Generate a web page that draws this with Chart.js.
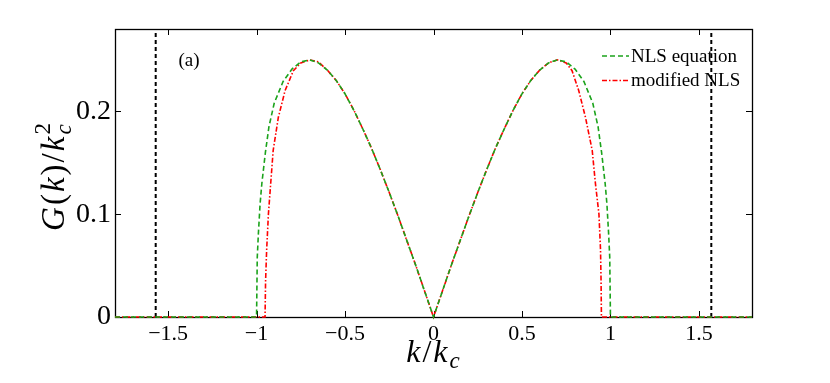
<!DOCTYPE html>
<html>
<head>
<meta charset="utf-8">
<script src="https://cdn.jsdelivr.net/npm/chart.js@4.4.1/dist/chart.umd.min.js"></script>
<style>
  html, body { margin: 0; padding: 0; background: #fff; }
</style>
</head>
<body>
<canvas id="chart" width="830" height="383"></canvas>
<script>
// --- DATA ---
const nlsK = [-1.8, -1.0, -0.996, -0.99, -0.98, -0.97, -0.95, -0.93, -0.9, -0.85, -0.8, -0.75, -0.7, -0.65, -0.6,
  -0.55, -0.5, -0.45, -0.4, -0.35, -0.3, -0.25, -0.2, -0.15, -0.1, -0.05, 0,
  0.05, 0.1, 0.15, 0.2, 0.25, 0.3, 0.35, 0.4, 0.45, 0.5, 0.55, 0.6,
  0.65, 0.7, 0.75, 0.8, 0.85, 0.9, 0.93, 0.95, 0.97, 0.98, 0.99, 0.996, 1.0, 1.8];
const nlsG = [0, 0, 0.058, 0.08, 0.11, 0.13, 0.16, 0.185, 0.208, 0.229, 0.241, 0.248, 0.250, 0.247, 0.240,
  0.230, 0.217, 0.201, 0.183, 0.164, 0.143, 0.121, 0.098, 0.074, 0.050, 0.025, 0,
  0.025, 0.050, 0.074, 0.098, 0.121, 0.143, 0.164, 0.183, 0.201, 0.217, 0.230, 0.240,
  0.247, 0.250, 0.248, 0.241, 0.229, 0.208, 0.185, 0.16, 0.13, 0.11, 0.08, 0.058, 0, 0];

const modK = [-1.8, -0.952, -0.949, -0.943, -0.933, -0.92, -0.906, -0.877, -0.839, -0.792, -0.75, -0.7, -0.65, -0.6,
  -0.55, -0.5, -0.45, -0.4, -0.35, -0.3, -0.25, -0.2, -0.15, -0.1, -0.05, 0,
  0.05, 0.1, 0.15, 0.2, 0.25, 0.3, 0.35, 0.4, 0.45, 0.5, 0.55, 0.6,
  0.65, 0.7, 0.75, 0.783, 0.821, 0.859, 0.897, 0.915, 0.935, 0.944, 0.947, 0.949, 1.8];
const modG = [0, 0, 0.035, 0.065, 0.10, 0.13, 0.162, 0.194, 0.22, 0.2395, 0.247, 0.250, 0.248, 0.240,
  0.230, 0.217, 0.201, 0.183, 0.164, 0.143, 0.121, 0.098, 0.074, 0.050, 0.025, 0,
  0.025, 0.050, 0.074, 0.098, 0.121, 0.143, 0.164, 0.183, 0.201, 0.217, 0.230, 0.240,
  0.247, 0.250, 0.247, 0.2395, 0.22, 0.194, 0.162, 0.13, 0.10, 0.065, 0.035, 0, 0];

const cutoffK = [-1.57, 1.57];

const xTicks = [-1.5, -1, -0.5, 0, 0.5, 1, 1.5];
const xTickLabels = ['\u22121.5', '\u22121', '\u22120.5', '0', '0.5', '1', '1.5'];
const yTicks = [0, 0.1, 0.2];
const yTickLabels = ['0', '0.1', '0.2'];

const seriesNames = ['NLS equation', 'modified NLS'];

// --- HELPERS ---
const toPoints = (xs, ys) => xs.map((x, i) => ({ x: x, y: ys[i] }));
const SERIF = '"Liberation Serif", "DejaVu Serif", serif';
const GREEN = '#1ba31b';
const RED = '#ff0000';

// draws a run of text parts: {t, it, size, dy}
const drawParts = (ctx, parts, x, y, gap) => {
  let cx = x;
  parts.forEach(p => {
    ctx.font = (p.it ? 'italic ' : '') + p.size + 'px ' + SERIF;
    ctx.fillText(p.t, cx, y + (p.dy || 0));
    if (!p.noAdvance) cx += ctx.measureText(p.t).width + gap;
  });
};
const partsWidth = (ctx, parts, gap) => {
  let w = 0;
  parts.forEach((p, i) => {
    ctx.font = (p.it ? 'italic ' : '') + p.size + 'px ' + SERIF;
    if (!p.noAdvance) w += ctx.measureText(p.t).width + (i < parts.length - 1 ? gap : 0);
  });
  return w;
};

// frame, inward ticks, legend, labels
const decorations = {
  id: 'decorations',
  beforeDatasetsDraw(chart) {
    const { ctx, chartArea: a, scales } = chart;
    ctx.save();
    ctx.strokeStyle = '#000';
    ctx.lineWidth = 1.3;
    ctx.setLineDash([]);
    ctx.strokeRect(a.left + 0.5, a.top + 0.5, a.right - a.left, a.bottom - a.top);
    ctx.lineWidth = 1;
    ctx.beginPath();
    xTicks.forEach(v => {
      const px = Math.round(scales.x.getPixelForValue(v)) + 0.5;
      ctx.moveTo(px, a.bottom); ctx.lineTo(px, a.bottom - 6);
      ctx.moveTo(px, a.top); ctx.lineTo(px, a.top + 6);
    });
    yTicks.forEach(v => {
      const py = Math.round(scales.y.getPixelForValue(v)) + 0.5;
      ctx.moveTo(a.left, py); ctx.lineTo(a.left + 6, py);
      ctx.moveTo(a.right, py); ctx.lineTo(a.right - 6, py);
    });
    ctx.stroke();
    ctx.restore();
  },
  afterDraw(chart) {
    const { ctx } = chart;
    ctx.save();
    ctx.fillStyle = '#000';
    ctx.textBaseline = 'alphabetic';

    // legend
    chart.data.datasets.slice(0, 2).forEach((ds, i) => {
      const y = 56 + i * 24.5;
      ctx.strokeStyle = ds.borderColor;
      ctx.lineWidth = ds.borderWidth;
      ctx.setLineDash(ds.borderDash);
      ctx.beginPath();
      ctx.moveTo(602, y); ctx.lineTo(629, y);
      ctx.stroke();
      ctx.setLineDash([]);
      ctx.font = '19px ' + SERIF;
      ctx.textBaseline = 'middle';
      ctx.fillText(ds.label, 631, y + 1);
    });

    // panel tag
    ctx.font = '19px ' + SERIF;
    ctx.textBaseline = 'middle';
    ctx.textAlign = 'center';
    ctx.fillText('(a)', 189, 61);
    ctx.textAlign = 'left';
    ctx.textBaseline = 'alphabetic';

    // x title: k/k_c
    const xParts = [
      { t: 'k', it: true, size: 32 },
      { t: '/', size: 32 },
      { t: 'k', it: true, size: 32 },
      { t: 'c', it: true, size: 23, dy: 6 }
    ];
    const xw = partsWidth(ctx, xParts, 2);
    drawParts(ctx, xParts, 433 - xw / 2, 362, 2);

    // y title: G(k)/k_c^2
    const yParts = [
      { t: 'G', it: true, size: 33 },
      { t: '(', size: 33 },
      { t: 'k', it: true, size: 33 },
      { t: ')', size: 33 },
      { t: '/', size: 33 },
      { t: 'k', it: true, size: 33 },
      { t: 'c', it: true, size: 23, dy: 7, noAdvance: true },
      { t: '2', size: 23, dy: -14 }
    ];
    const yw = partsWidth(ctx, yParts, 2);
    ctx.translate(64, 177);
    ctx.rotate(-Math.PI / 2);
    drawParts(ctx, yParts, -yw / 2, 0, 2);
    ctx.restore();
  }
};

const chart = new Chart(document.getElementById('chart'), {
  type: 'line',
  data: {
    datasets: [
      {
        label: seriesNames[0],
        data: toPoints(nlsK, nlsG),
        borderColor: GREEN,
        borderWidth: 1.6,
        borderDash: [5, 3],
        pointRadius: 0,
        tension: 0,
        clip: 4
      },
      {
        label: seriesNames[1],
        data: toPoints(modK, modG),
        borderColor: RED,
        borderWidth: 1.6,
        borderDash: [5, 2, 1.5, 2],
        pointRadius: 0,
        tension: 0,
        clip: 4
      },
      ...cutoffK.map(k => ({
        label: 'cutoff',
        data: [{ x: k, y: 0 }, { x: k, y: 0.28 }],
        borderColor: '#000',
        borderWidth: 2,
        borderDash: [4, 3],
        pointRadius: 0
      }))
    ]
  },
  options: {
    responsive: false,
    animation: false,
    events: [],
    layout: { padding: { top: 29, right: 78, left: 0, bottom: 0 } },
    plugins: { legend: { display: false }, tooltip: { enabled: false } },
    scales: {
      x: {
        type: 'linear',
        min: -1.8,
        max: 1.8,
        grid: { display: false, drawTicks: false },
        border: { display: false },
        afterBuildTicks: scale => { scale.ticks = xTicks.map(v => ({ value: v })); },
        afterFit: scale => { scale.height = 66; },
        ticks: {
          autoSkip: false,
          maxRotation: 0,
          padding: 4,
          color: '#000',
          font: { family: SERIF, size: 22 },
          callback: (value, index) => xTickLabels[index]
        }
      },
      y: {
        type: 'linear',
        min: 0,
        max: 0.28,
        grid: { display: false, drawTicks: false },
        border: { display: false },
        afterBuildTicks: scale => { scale.ticks = yTicks.map(v => ({ value: v })); },
        afterFit: scale => { scale.width = 115; },
        ticks: {
          padding: 4,
          color: '#000',
          font: { family: SERIF, size: 28 },
          callback: (value, index) => yTickLabels[index]
        }
      }
    }
  },
  plugins: [decorations]
});
</script>
</body>
</html>
